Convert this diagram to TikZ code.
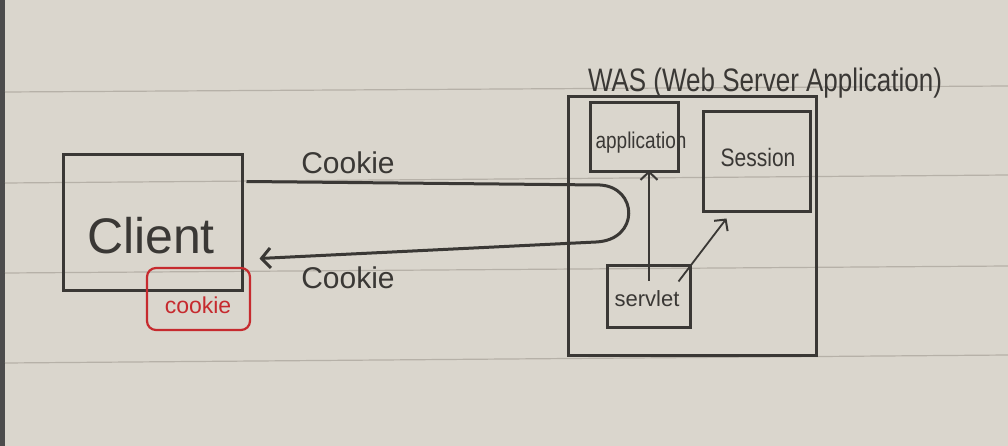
\documentclass[tikz,border=0pt]{standalone}
\usepackage{fontspec}
\setmainfont{Liberation Sans}
\usetikzlibrary{arrows.meta,calc}
\definecolor{paper}{HTML}{DAD6CD}
\definecolor{paperline}{HTML}{B6B1A8}
\definecolor{ink}{HTML}{3A3835}
\definecolor{redink}{HTML}{C62A2E}
\tikzset{
  box/.style={draw=ink,line width=3pt,inner sep=0pt},
  redbox/.style={draw=redink,line width=2.2pt,rounded corners=9pt,inner sep=0pt},
  txt/.style={text=ink,inner sep=0pt,anchor=center},
  flow/.style={draw=ink,line width=3pt,-{Straight Barb[length=9pt,width=20pt,line width=3pt]}},
  thin/.style={draw=ink,line width=1.8pt,-{Straight Barb[length=8pt,width=17pt,line width=2pt]}},
  rule/.style={draw=paperline,line width=1.2pt}
}
\begin{document}
\begin{tikzpicture}[x=1pt,y=-1pt]
\useasboundingbox (0,0) rectangle (1008,446);
% paper
\fill[paper] (0,0) rectangle (1008,446);
\fill[black!70] (0,0) rectangle (5,446);
\draw[rule] (5,92) -- (1008,86);
\draw[rule] (5,183) -- (1008,175);
\draw[rule] (5,273) -- (1008,266);
\draw[rule] (5,363) -- (1008,355);

% client
\node[box,minimum width=179pt,minimum height=135pt] (client) at (152.5,222.5) {};
\node[txt,font=\fontsize{50}{50}\selectfont] (clienttxt) at (151,236) {Client};
\node[redbox,minimum width=103pt,minimum height=62pt] (cookiebox) at (198.5,299) {};
\node[txt,text=redink,font=\fontsize{23}{23}\selectfont] (cookietxt) at (198,305) {cookie};

% WAS
\node[box,minimum width=248pt,minimum height=258pt] (was) at (692,226) {};
\node[txt,font=\fontsize{26}{26}\selectfont,yscale=1.25] (wastitle) at (765,83) {WAS (Web Server Application)};
\node[box,minimum width=88pt,minimum height=69pt] (app) at (634,137.5) {};
\node[txt,font=\fontsize{19}{19}\selectfont,yscale=1.2] (apptxt) at (641,143) {application};
\node[box,minimum width=107pt,minimum height=100pt] (session) at (756.5,162) {};
\node[txt,font=\fontsize{21}{21}\selectfont,yscale=1.2] (sessiontxt) at (758,157) {Session};
\node[box,minimum width=83pt,minimum height=62pt] (servlet) at (648.5,296) {};
\node[txt,font=\fontsize{22}{22}\selectfont] (servlettxt) at (647,299) {servlet};

% cookie loop
\coordinate (tip) at ($(client.south east)+(16,-33)$);
\draw[flow] ($(client.north east)+(3,28)$) -- (600,185)
  .. controls (638,187) and (640,240) .. (596,242)
  -- (tip);
\node[txt,font=\fontsize{30}{30}\selectfont] (ck1) at (348,163) {Cookie};
\node[txt,font=\fontsize{30}{30}\selectfont] (ck2) at (348,278) {Cookie};

% inner arrows
\draw[thin] ($(servlet.north)+(0.5,17)$) -- ($(app.south)+(15,-3)$);
\draw[thin] ($(servlet.north east)+(-13,18)$) -- ($(session.south west)+(25,5)$);
\end{tikzpicture}
\end{document}
